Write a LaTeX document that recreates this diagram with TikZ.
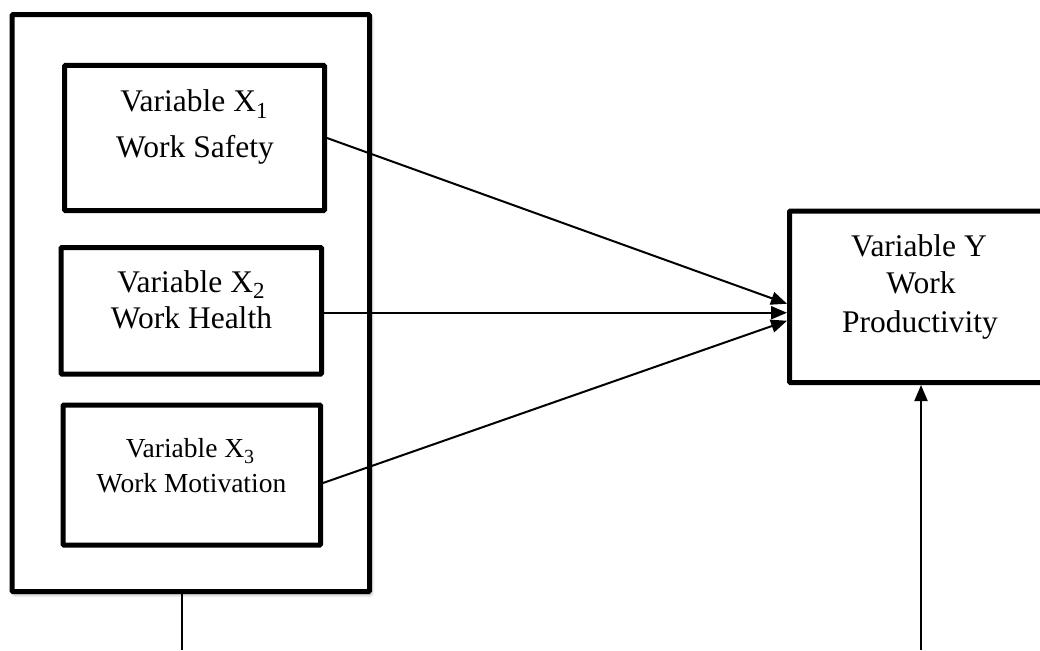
\documentclass[tikz,border=0pt]{standalone}
\usepackage{fontspec}
\setmainfont{Liberation Serif}
\usetikzlibrary{arrows.meta,shadows.blur}
\newcommand{\mysubA}[1]{\raisebox{-0.22em}{\fontsize{23}{23}\selectfont #1}}
\newcommand{\mysubB}[1]{\raisebox{-0.22em}{\fontsize{20}{20}\selectfont #1}}
\tikzset{
  box/.style={draw, line width=5pt, rounded corners=1pt, fill=white, inner sep=0pt},
  outerbox/.style={box, blur shadow={shadow xshift=2pt, shadow yshift=-3pt, shadow blur radius=3pt, shadow opacity=35}},
  conn/.style={line width=2pt, -{Triangle[length=16pt,width=13pt]}},
  plainline/.style={line width=2pt},
  lbl/.style={anchor=base, inner sep=0pt, font=\fontsize{31.5}{36}\selectfont},
  lblsm/.style={anchor=base, inner sep=0pt, font=\fontsize{27.5}{32}\selectfont},
}
\begin{document}
\begin{tikzpicture}[x=1pt,y=-1pt]
\useasboundingbox (0,0) rectangle (1040,650);
% outer frame
\node[outerbox, minimum width=357.5pt, minimum height=577pt] (outer) at (190.75,303.1) {};
% inner boxes
\node[box, minimum width=260pt, minimum height=145pt] (b1) at (194.5,138) {};
\node[box, minimum width=260.5pt, minimum height=126.5pt] (b2) at (191.25,310.75) {};
\node[box, minimum width=257.5pt, minimum height=140pt] (b3) at (191.75,475) {};
% Y box
\node[box, minimum width=270.5pt, minimum height=171.5pt] (Y) at (924.75,296.75) {};
% texts
\node[lbl] (t1a) at (194,112) {Variable X\mysubA{1}};
\node[lbl] (t1b) at (195,157) {Work Safety};
\node[lbl] (t2a) at (191,292) {Variable X\mysubA{2}};
\node[lbl] (t2b) at (191.5,328) {Work Health};
\node[lblsm] (t3a) at (190,457) {Variable X\mysubB{3}};
\node[lblsm] (t3b) at (191.5,492) {Work Motivation};
\node[lbl] (tya) at (919,256) {Variable Y};
\node[lbl] (tyb) at (921,293) {Work};
\node[lbl] (tyc) at (920,332) {Productivity};
% connectors
\draw[conn] (b1.east) -- ([yshift=-7pt]Y.west);
\draw[conn] ([yshift=-2pt]b2.east) -- ([yshift=-16pt]Y.west);
\draw[conn] ([yshift=-8pt]b3.east) -- ([yshift=-24pt]Y.west);
% bottom lines
\coordinate (c1) at (182,650);
\coordinate (c2) at (921,650);
\draw[plainline] (outer.south -| c1) -- (c1);
\draw[conn] (c2) -- (c2 |- Y.south);
\end{tikzpicture}
\end{document}
